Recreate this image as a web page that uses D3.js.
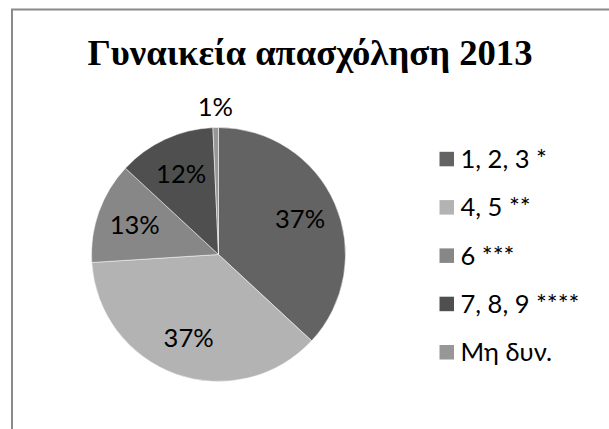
<!DOCTYPE html>
<html>
<head>
<meta charset="utf-8">
<script src="https://cdn.jsdelivr.net/npm/d3@7"></script>
<style>
  html, body { margin: 0; padding: 0; background: #fff; }
  svg { display: block; }
  .title { font-family: "Liberation Serif", "Times New Roman", serif; font-weight: bold; font-size: 36.7px; fill: #000; }
  .slice-label, .legend-item { font-family: Lato, "Open Sans", sans-serif; font-size: 25.5px; fill: #000; }
</style>
</head>
<body>
<svg id="chart"></svg>
<script>
  const title = "Γυναικεία απασχόληση 2013";
  const categories = ["1, 2, 3 *", "4, 5 **", "6 ***", "7, 8, 9 ****", "Μη δυν."];
  const shares = [36.9, 37.1, 12.9, 12.4, 0.7];
  const colors = ["#636363", "#b3b3b3", "#878787", "#4f4f4f", "#979797"];

  const width = 609;
  const height = 429;

  function translate(x, y) {
    return `translate(${x},${y})`;
  }

  const svg = d3.select("svg#chart").attr("width", width).attr("height", height);

  // chart frame (right and bottom edges fall outside the picture)
  svg
    .append("rect")
    .attr("x", 12)
    .attr("y", 9.5)
    .attr("width", 640)
    .attr("height", 460)
    .attr("fill", "#fff")
    .attr("stroke", "#8a8a8a")
    .attr("stroke-width", 2);

  svg
    .append("text")
    .attr("x", 310)
    .attr("y", 65)
    .attr("text-anchor", "middle")
    .text(title)
    .classed("title", true);

  const data = categories.map((name, i) => ({ name, value: shares[i], color: colors[i] }));

  const radius = 127;
  const pie = d3.pie().sort(null).value((d) => d.value);
  const arc = d3.arc().innerRadius(0).outerRadius(radius);
  const labelArc = d3.arc().innerRadius(89).outerRadius(89);
  const outerLabelArc = d3.arc().innerRadius(147).outerRadius(147);

  const pieG = svg.append("g").attr("transform", translate(218.5, 254.5));
  const arcs = pie(data);

  pieG
    .selectAll("path")
    .data(arcs)
    .enter()
    .append("path")
    .attr("d", arc)
    .attr("fill", (d) => d.data.color)
    .attr("stroke", "#fff")
    .attr("stroke-width", 0.5);

  // small slices get their label outside the pie
  pieG
    .selectAll(".slice-label")
    .data(arcs)
    .enter()
    .append("text")
    .attr("transform", (d) => {
      const a = d.data.value < 3 ? outerLabelArc : labelArc;
      const [x, y] = a.centroid(d);
      return translate(x, y);
    })
    .attr("text-anchor", "middle")
    .attr("dy", "0.35em")
    .text((d) => `${Math.round(d.data.value)}%`)
    .classed("slice-label", true);

  // legend
  const legend = svg.append("g").attr("transform", translate(439.5, 159));
  const rows = legend
    .selectAll("g")
    .data(data)
    .enter()
    .append("g")
    .attr("transform", (d, i) => translate(0, i * 48.3));

  rows
    .append("rect")
    .attr("x", 0)
    .attr("y", -7.2)
    .attr("width", 14.5)
    .attr("height", 14.5)
    .attr("fill", (d) => d.color);

  rows
    .append("text")
    .attr("x", 21)
    .attr("dy", "0.35em")
    .text((d) => d.name)
    .classed("legend-item", true);
</script>
</body>
</html>
